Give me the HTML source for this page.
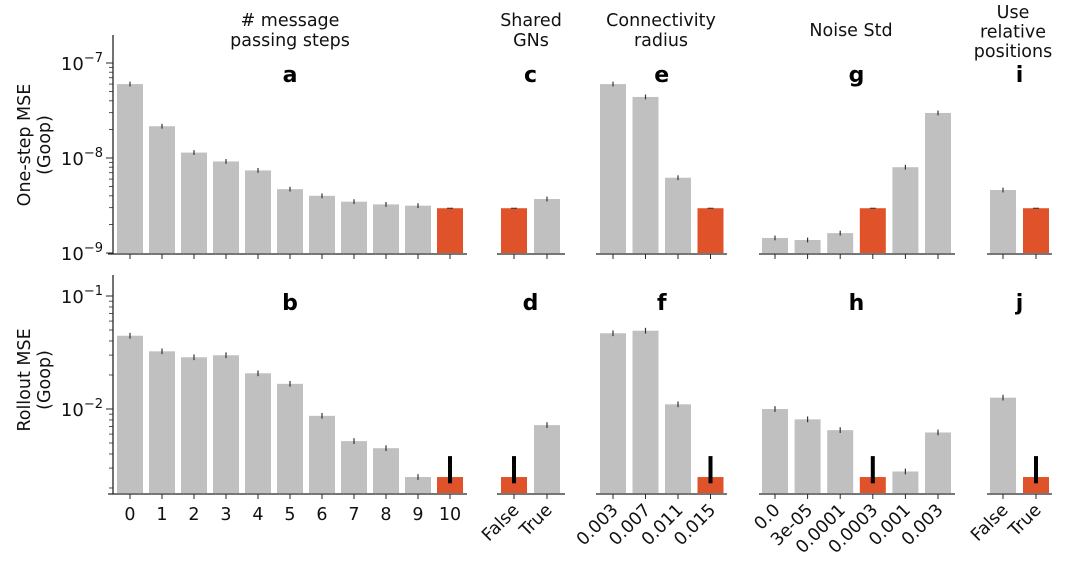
<!DOCTYPE html>
<html><head><meta charset="utf-8">
<style>
html,body{margin:0;padding:0;background:#fff;}
svg{display:block;font-family:"DejaVu Sans","Liberation Sans",sans-serif;}
</style></head>
<body>
<svg id="chart" width="1080" height="571" viewBox="0 0 1080 571" xmlns="http://www.w3.org/2000/svg">
<g id="layer"></g>
</svg>
<script>
// ---- data ----
const catsA = ["0","1","2","3","4","5","6","7","8","9","10"];
const catsC = ["False","True"];
const catsE = ["0.003","0.007","0.011","0.015"];
const catsG = ["0.0","3e-05","0.0001","0.0003","0.001","0.003"];
const catsI = ["False","True"];
const oneStepA = [6.0e-8,2.16e-8,1.14e-8,9.2e-9,7.4e-9,4.7e-9,4.0e-9,3.47e-9,3.25e-9,3.15e-9,2.96e-9];
const oneStepC = [2.96e-9,3.7e-9];
const oneStepE = [6.0e-8,4.39e-8,6.2e-9,2.96e-9];
const oneStepG = [1.44e-9,1.37e-9,1.62e-9,2.96e-9,8.0e-9,2.98e-8];
const oneStepI = [4.6e-9,2.96e-9];
const rolloutA = [4.45e-2,3.24e-2,2.87e-2,2.99e-2,2.07e-2,1.67e-2,8.7e-3,5.2e-3,4.5e-3,2.5e-3,2.5e-3];
const rolloutC = [2.5e-3,7.2e-3];
const rolloutE = [4.68e-2,4.93e-2,1.1e-2,2.5e-3];
const rolloutG = [1.0e-2,8.1e-3,6.5e-3,2.5e-3,2.8e-3,6.2e-3];
const rolloutI = [1.26e-2,2.5e-3];
const highlightA = 10, highlightC = 0, highlightE = 3, highlightG = 3, highlightI = 1;
const defaultErrLo = 2.2e-3, defaultErrHi = 3.83e-3;
const topTicks = ["10^-7","10^-8","10^-9"];
const botTicks = ["10^-1","10^-2"];

// ---- layout ----
const NS = "http://www.w3.org/2000/svg";
const layer = document.getElementById('layer');
function el(tag, attrs, parent){
  const e = document.createElementNS(NS, tag);
  for (const k in attrs) e.setAttribute(k, attrs[k]);
  (parent||layer).appendChild(e);
  return e;
}
const GRAY="#c0c0c0", ORANGE="#e0522a", AX="#262626";
const FS = 17.5;
function yTop(v){ return 253 - (Math.log10(v) + 9) * 95; }
function yBot(v){ return 409 - (Math.log10(v) + 2) * 113; }
const topBase = 253, botBase = 493;
const panels = [
  {id:"a", bid:"b", cats:catsA, top:oneStepA, bot:rolloutA, hi:highlightA, x0:130, step:32, l:108, r:467, rot:false, title:["# message","passing steps"], tx:290},
  {id:"c", bid:"d", cats:catsC, top:oneStepC, bot:rolloutC, hi:highlightC, x0:514, step:33, l:497, r:565, rot:true, title:["Shared","GNs"], tx:531},
  {id:"e", bid:"f", cats:catsE, top:oneStepE, bot:rolloutE, hi:highlightE, x0:613, step:32.5, l:596, r:727, rot:true, title:["Connectivity","radius"], tx:661},
  {id:"g", bid:"h", cats:catsG, top:oneStepG, bot:rolloutG, hi:highlightG, x0:775, step:32.6, l:759, r:955, rot:true, title:["Noise Std"], tx:851},
  {id:"i", bid:"j", cats:catsI, top:oneStepI, bot:rolloutI, hi:highlightI, x0:1003, step:33, l:987, r:1052, rot:true, title:["Use","relative","positions"], tx:1013}
];
const BW = 26;

function drawBars(p, vals, ys, base, isTop){
  const g = el('g',{});
  
  
  vals.forEach((v,i)=>{
    const cx = p.x0 + i*p.step;
    const y = ys(v);
    const r = el('rect',{x:cx-BW/2, y:y, width:BW, height:base-y, fill: i===p.hi?ORANGE:GRAY}, g);
    
    
    if (i===p.hi && !isTop){
      const eb = el('line',{x1:cx,x2:cx,y1:ys(defaultErrHi),y2:ys(defaultErrLo),stroke:"#000","stroke-width":4}, g);
      
      
    } else if (i!==p.hi) {
      const eb = el('line',{x1:cx,x2:cx,y1:ys(v*1.06),y2:ys(v/1.06),stroke:"#333","stroke-width":1.2}, g);
      
      
    } else {
      el('line',{x1:cx-3,x2:cx+3,y1:y,y2:y,stroke:"#333","stroke-width":1}, g);
    }
  });
}

panels.forEach(p=>{
  const n = p.title.length;
  p.title.forEach((t,k)=>{
    const y = n===1 ? 36 : (n===2 ? 26 + k*20 : 18 + k*19.5);
    const tt = el('text',{x:p.tx,y:y,"text-anchor":"middle","font-size":FS,fill:"#111"});
    tt.textContent = t;
    
    
  });
  const cx = (p.x0 + p.x0 + (p.cats.length-1)*p.step)/2;
  const la = el('text',{x:cx,y:82,"text-anchor":"middle","font-size":22,"font-weight":"bold",fill:"#000"});
  la.textContent = p.id;
  
  
  const lb = el('text',{x:cx,y:310,"text-anchor":"middle","font-size":22,"font-weight":"bold",fill:"#000"});
  lb.textContent = p.bid;
  
  

  drawBars(p, p.top, yTop, topBase, true);
  drawBars(p, p.bot, yBot, botBase, false);

  [topBase+1, botBase+1].forEach((yb,row)=>{
    const ax = el('line',{x1:p.l,x2:p.r,y1:yb,y2:yb,stroke:AX,"stroke-width":1.3});
    
    
    p.cats.forEach((c,i)=>{
      const tx = p.x0 + i*p.step;
      el('line',{x1:tx,x2:tx,y1:yb,y2:yb+5,stroke:AX,"stroke-width":1});
    });
  });
  p.cats.forEach((c,i)=>{
    const tx = p.x0 + i*p.step;
    let t;
    if (!p.rot){
      t = el('text',{x:tx,y:520,"text-anchor":"middle","font-size":FS,fill:"#111"});
    } else {
      t = el('text',{x:tx+6,y:511,"text-anchor":"end","font-size":FS,fill:"#111",transform:`rotate(-45 ${tx+6} 511)`});
    }
    t.textContent = c;
    
    
  });
});

function yAxis(scaleFn, yTopPx, yBotPx, decades, labels, minorStart, name){
  const ax = el('line',{x1:113,x2:113,y1:yTopPx,y2:yBotPx+1,stroke:AX,"stroke-width":1.3});
  
  
  decades.forEach((d,k)=>{
    const y = scaleFn(Math.pow(10,d));
    el('line',{x1:106,x2:113,y1:y,y2:y,stroke:AX,"stroke-width":1});
    const parts = labels[k].split("^");
    const t = el('text',{x:103,y:y+7,"text-anchor":"end","font-size":18,fill:"#111"});
    
    
    const s1 = el('tspan',{},t); s1.textContent = parts[0];
    const s2 = el('tspan',{dy:-8,"font-size":13},t); s2.textContent = parts[1].replace("-","\u2212");
  });
  for (let d=minorStart; d<=decades[0]; d++){
    for (let m=2;m<=9;m++){
      const v = m*Math.pow(10,d);
      const y = scaleFn(v);
      if (y<yTopPx || y>yBotPx+1) continue;
      el('line',{x1:109,x2:113,y1:y,y2:y,stroke:AX,"stroke-width":0.8});
    }
  }
}
yAxis(yTop, 35, topBase, [-7,-8,-9], topTicks, -9, 'y-axis-one-step');
yAxis(yBot, 275, botBase, [-1,-2], botTicks, -3, 'y-axis-rollout');

[["One-step MSE","(Goop)",145,'y-axis-title-one-step'],["Rollout MSE","(Goop)",380,'y-axis-title-rollout']].forEach(a=>{
  const t1 = el('text',{x:30,y:a[2],"text-anchor":"middle","font-size":FS,fill:"#111",transform:`rotate(-90 30 ${a[2]})`});
  t1.textContent = a[0];
  
  
  const t2 = el('text',{x:50,y:a[2],"text-anchor":"middle","font-size":FS,fill:"#111",transform:`rotate(-90 50 ${a[2]})`});
  t2.textContent = a[1];
  
  
});
</script>
</body></html>
